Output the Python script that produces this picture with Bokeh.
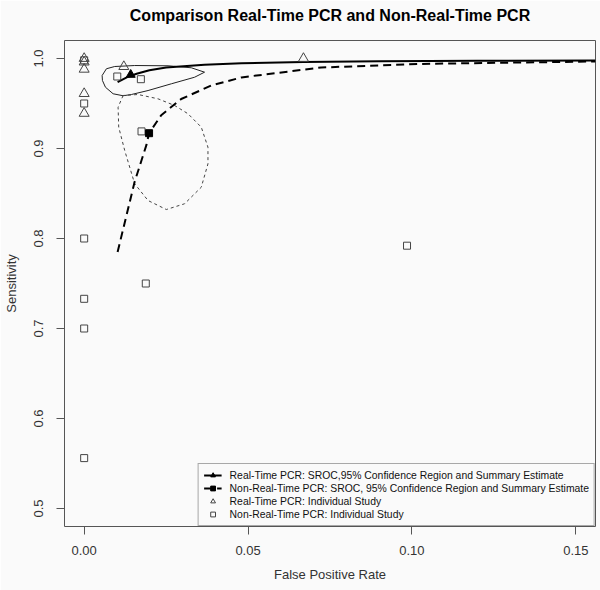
from bokeh.plotting import figure
from bokeh.models import Range1d, FixedTicker, NumeralTickFormatter, Legend, LegendItem
from bokeh.embed import file_html
from bokeh.resources import INLINE

# ---- data ----
rt_study_x = [0.0, 0.0, 0.0, 0.0, 0.0, 0.0121, 0.0669]
rt_study_y = [1.000, 0.996, 0.988, 0.961, 0.939, 0.991, 1.000]

nrt_study_x = [0.0, 0.0, 0.0, 0.0, 0.0, 0.0, 0.0101, 0.0173, 0.0175, 0.0188, 0.0985]
nrt_study_y = [0.998, 0.950, 0.800, 0.733, 0.700, 0.556, 0.980, 0.977, 0.919, 0.750, 0.792]

rt_summary_x = [0.0142]
rt_summary_y = [0.982]
nrt_summary_x = [0.0198]
nrt_summary_y = [0.917]

rt_sroc_x = [0.0102, 0.0130, 0.0160, 0.0199, 0.0250, 0.0367, 0.0480, 0.0669, 0.0900, 0.1200, 0.1560]
rt_sroc_y = [0.9737, 0.9790, 0.9830, 0.9870, 0.9900, 0.9930, 0.9948, 0.9962, 0.9970, 0.9975, 0.9978]

nrt_sroc_x = [0.0102, 0.0154, 0.0190, 0.0198, 0.0235, 0.0296, 0.0388, 0.0480, 0.0723, 0.1027, 0.1560]
nrt_sroc_y = [0.785, 0.863, 0.904, 0.917, 0.937, 0.955, 0.970, 0.979, 0.990, 0.994, 0.9967]

rt_region_x = [0.00548, 0.00679, 0.00932, 0.01541, 0.02559, 0.03268, 0.03673, 0.03369,
               0.02661, 0.01949, 0.01441, 0.01188, 0.00883, 0.00649, 0.00557]
rt_region_y = [0.9811, 0.9886, 0.9911, 0.9922, 0.9919, 0.9897, 0.9848, 0.9792,
               0.9719, 0.9644, 0.9600, 0.9586, 0.9608, 0.9681, 0.9756]

nrt_region_x = [0.01188, 0.01035, 0.01054, 0.01237, 0.01541, 0.01949, 0.02507, 0.03064,
                0.03573, 0.03777, 0.03777, 0.03573, 0.03168, 0.02760, 0.02254, 0.01645]
nrt_region_y = [0.9589, 0.9459, 0.9237, 0.8978, 0.8608, 0.8422, 0.8322, 0.8386,
                0.8570, 0.8830, 0.9014, 0.9237, 0.9386, 0.9478, 0.9552, 0.9600]

x_ticks = [0.0, 0.05, 0.10, 0.15]
y_ticks = [0.5, 0.6, 0.7, 0.8, 0.9, 1.0]

title_text = "Comparison Real-Time PCR and Non-Real-Time PCR"
legend_labels = [
    "Real-Time PCR: SROC,95% Confidence Region and Summary Estimate",
    "Non-Real-Time PCR: SROC, 95% Confidence Region and Summary Estimate",
    "Real-Time PCR: Individual Study",
    "Non-Real-Time PCR: Individual Study",
]

FONT = "Liberation Sans"
BG = "#fafafa"
GREY = "#555555"

p = figure(width=600, height=590, output_backend="svg", toolbar_location=None,
           x_range=Range1d(-0.006, 0.156), y_range=Range1d(0.48, 1.02),
           min_border_left=63, min_border_right=5, min_border_top=40, min_border_bottom=64,
           background_fill_color=BG, border_fill_color=BG)
p.grid.visible = False
p.outline_line_color = GREY
p.outline_line_width = 1

# trailing empty line lifts the title towards the top edge, as in the reference
p.title.text = title_text + "\n"
p.title.align = "center"
p.title.vertical_align = "bottom"
p.title.text_font = FONT
p.title.text_font_size = "16px"
p.title.text_font_style = "bold"
p.title.text_color = "black"
p.title.standoff = 0

for ax in (p.xaxis[0], p.yaxis[0]):
    ax.axis_line_color = None
    ax.major_tick_in = 0
    ax.major_tick_out = 8
    ax.minor_tick_line_color = None
    ax.major_tick_line_color = GREY
    ax.major_label_text_font = FONT
    ax.major_label_text_font_size = "13px"
    ax.major_label_text_color = "#333333"
    ax.axis_label_text_font = FONT
    ax.axis_label_text_font_size = "13px"
    ax.axis_label_text_font_style = "normal"
    ax.axis_label_text_color = "#333333"

p.xaxis.ticker = FixedTicker(ticks=x_ticks)
p.xaxis.formatter = NumeralTickFormatter(format="0.00")
p.xaxis.major_label_standoff = 11
p.xaxis.axis_label = "False Positive Rate"
p.xaxis.axis_label_standoff = 9

p.yaxis.ticker = FixedTicker(ticks=y_ticks)
p.yaxis.formatter = NumeralTickFormatter(format="0.0")
p.yaxis.major_label_orientation = "vertical"
p.yaxis.major_label_standoff = 14
p.yaxis.axis_label = "Sensitivity"
p.yaxis.axis_label_standoff = 12

# confidence regions
p.line(rt_region_x + rt_region_x[:1], rt_region_y + rt_region_y[:1],
       line_color="#222222", line_width=1)
p.line(nrt_region_x + nrt_region_x[:1], nrt_region_y + nrt_region_y[:1],
       line_color="#444444", line_width=1, line_dash="3 3")

# SROC curves
r_rt_sroc = p.line(rt_sroc_x, rt_sroc_y, line_color="black", line_width=2)
r_nrt_sroc = p.line(nrt_sroc_x, nrt_sroc_y, line_color="black", line_width=2, line_dash="8 5")

# individual studies
r_rt_st = p.scatter(rt_study_x, rt_study_y, marker="triangle", size=10,
                    fill_color=None, line_color="#444444", line_width=1)
r_nrt_st = p.scatter(nrt_study_x, nrt_study_y, marker="square", size=7,
                     fill_color=None, line_color="#444444", line_width=1)

# summary estimates
r_rt_sum = p.scatter(rt_summary_x, rt_summary_y, marker="triangle", size=9,
                     fill_color="black", line_color="black")
r_nrt_sum = p.scatter(nrt_summary_x, nrt_summary_y, marker="square", size=7,
                      fill_color="black", line_color="black")

legend = Legend(items=[
    LegendItem(label=legend_labels[0], renderers=[r_rt_sroc, r_rt_sum]),
    LegendItem(label=legend_labels[1], renderers=[r_nrt_sroc, r_nrt_sum]),
    LegendItem(label=legend_labels[2], renderers=[r_rt_st]),
    LegendItem(label=legend_labels[3], renderers=[r_nrt_st]),
], location="bottom_right", margin=0, padding=5, spacing=1,
   glyph_height=12, glyph_width=18, label_height=12, label_standoff=8,
   label_text_font=FONT, label_text_font_size="10.4px", label_text_color="#111111",
   border_line_color=GREY, border_line_width=1,
   background_fill_color=BG, background_fill_alpha=1.0)
p.add_layout(legend, "center")

open("out.html", "w").write(file_html(p, INLINE))
